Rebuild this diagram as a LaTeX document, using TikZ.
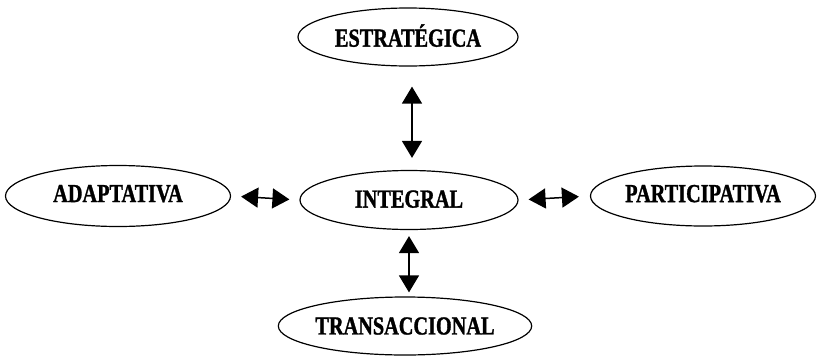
\documentclass[tikz,border=0pt]{standalone}
\usepackage{fontspec}
\setmainfont[FakeStretch=0.78,FakeBold=1.2]{Liberation Serif}
\usetikzlibrary{shapes.geometric,arrows.meta}
\tikzset{
  oval/.style={draw, line width=1.2pt, ellipse, inner sep=0pt, font=\fontsize{26}{26}\selectfont\bfseries},
  dbl/.style={line width=1.5pt, {Triangle[length=17pt,width=20pt]}-{Triangle[length=17pt,width=20pt]}}
}
\begin{document}
\begin{tikzpicture}[x=1pt,y=-1pt]
\useasboundingbox (0,0) rectangle (822,362);
\node[oval, minimum width=220pt, minimum height=58pt] (E) at (408,37) {\raisebox{3pt}{ESTRATÉGICA}};
\node[oval, minimum width=218pt, minimum height=59pt] (I) at (409,200) {\raisebox{2pt}{INTEGRAL}};
\node[oval, minimum width=225pt, minimum height=61pt] (A) at (118,196) {\raisebox{5pt}{ADAPTATIVA}};
\node[oval, minimum width=225pt, minimum height=60pt] (P) at (703,196) {\raisebox{5pt}{PARTICIPATIVA}};
\node[oval, minimum width=230pt, minimum height=58pt] (T) at (405,326) {TRANSACCIONAL};
\draw[dbl, shorten <=20pt, shorten >=12pt] ([xshift=4pt]E.south) -- ([xshift=3pt]I.north);
\draw[dbl, shorten <=10pt, shorten >=10pt] (A.east) -- (I.west);
\draw[dbl, shorten <=10pt, shorten >=11pt] (I.east) -- (P.west);
\draw[dbl, shorten <=6pt, shorten >=4pt] (I.south) -- (I.south |- T.north);
\end{tikzpicture}
\end{document}
